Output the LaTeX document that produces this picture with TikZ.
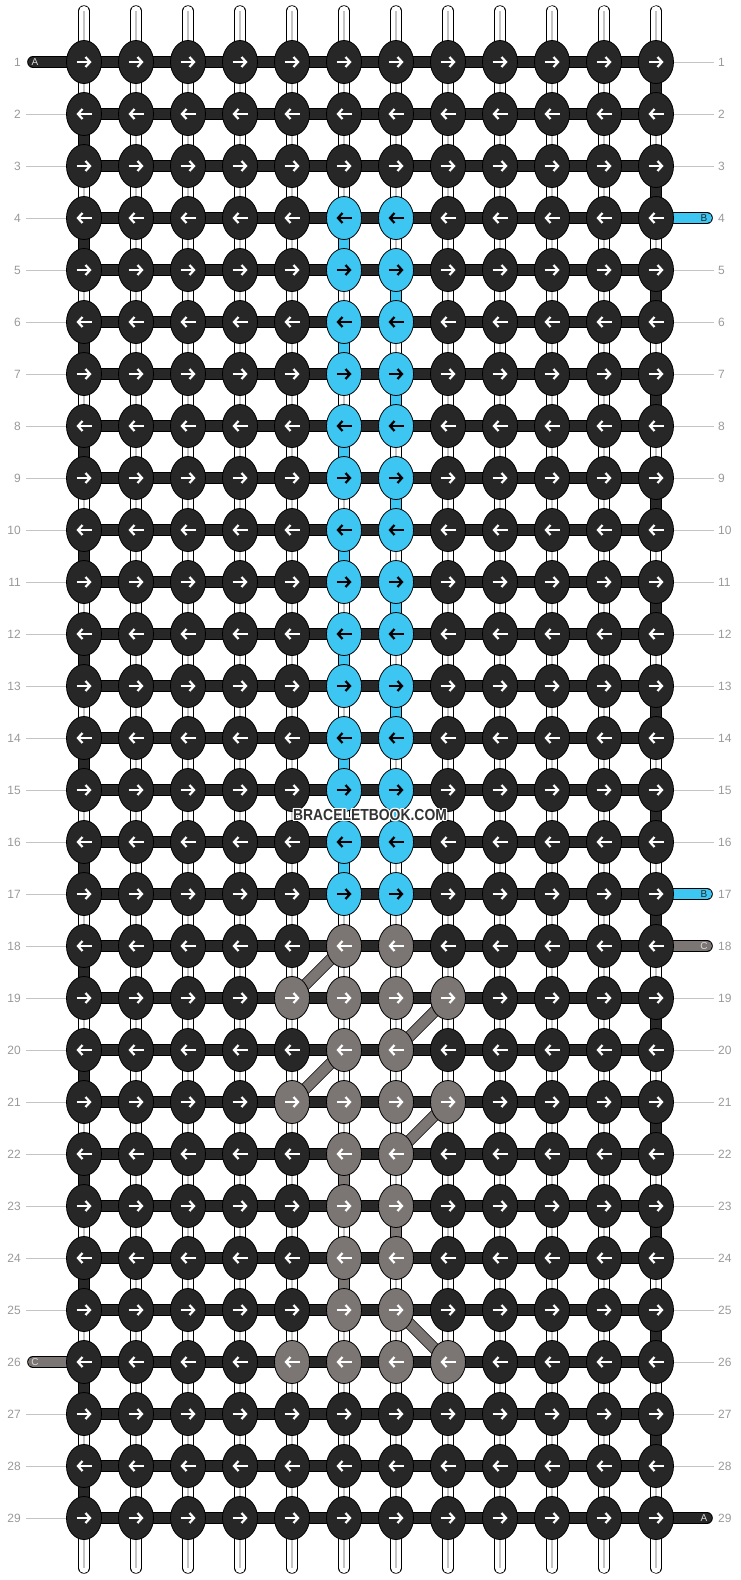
\documentclass[tikz,border=0pt]{standalone}
\usepackage{fontspec}
\setmainfont{Liberation Sans}
\usetikzlibrary{arrows.meta,shapes.geometric}

\definecolor{kdark}{HTML}{272727}
\definecolor{kblue}{HTML}{3EC6F2}
\definecolor{kgray}{HTML}{7B7574}
\definecolor{numgray}{HTML}{999999}
\definecolor{guidegray}{HTML}{C4C4C4}

\tikzset{
  knot/.style={ellipse, draw=black, line width=0.8pt, minimum width=35pt, minimum height=43pt, inner sep=0pt},
  strand/.style={draw=black, double=white, double distance=10pt, line width=0.7pt, line cap=round},
  core/.style={draw=guidegray, line width=1.3pt},
  bar/.style={draw=black, double=kdark, double distance=10pt, line width=0.8pt},
  arr/.style={line width=2.2pt, -{Straight Barb[length=4.5pt,width=10pt]}},
  guide/.style={draw=guidegray, line width=0.8pt},
  rownum/.style={text=numgray, font=\fontsize{12}{14}\selectfont, inner sep=0pt},
  tag/.style={font=\fontsize{10}{11}\selectfont, inner sep=0pt},
  wm/.style={font=\fontsize{16}{16}\selectfont\bfseries, xscale=0.87, inner sep=0pt}
}

\begin{document}
\begin{tikzpicture}[x=1pt,y=-1pt]
\useasboundingbox (0,0) rectangle (740,1580);
\foreach \r in {1,...,29}
  \foreach \c in {1,...,12}
    \coordinate (p-\r-\c) at ({84+52*(\c-1)},{62+52*(\r-1)});

% strands
\foreach \c in {1,...,12}{
  \coordinate (t-\c) at ({84+52*(\c-1)},11);
  \coordinate (b-\c) at ({84+52*(\c-1)},1568);
  \draw[strand] (t-\c) -- (b-\c);
  \draw[core] (t-\c) -- (b-\c);
}

% turns of the threads
\foreach \r [evaluate=\r as \rn using int(\r+1)] in {1,3,...,27}
  \draw[bar] (p-\r-12) -- (p-\rn-12);
\foreach \r [evaluate=\r as \rn using int(\r+1)] in {2,4,...,28}
  \draw[bar] (p-\r-1) -- (p-\rn-1);
\foreach \r [evaluate=\r as \rn using int(\r+1)] in {4,6,...,16}
  \draw[bar, double=kblue] (p-\r-6) -- (p-\rn-6);
\foreach \r [evaluate=\r as \rn using int(\r+1)] in {5,7,...,15}
  \draw[bar, double=kblue] (p-\r-7) -- (p-\rn-7);
\draw[bar, double=kgray] (p-22-6) -- (p-23-6);
\draw[bar, double=kgray] (p-23-7) -- (p-24-7);
\draw[bar, double=kgray] (p-24-6) -- (p-25-6);

% rows
\foreach \r in {1,...,29}
  \draw[bar] (p-\r-1) -- (p-\r-12);

% loose ends
\coordinate (sa1) at (33,62);
\coordinate (sa2) at (707,1518);
\coordinate (sb1) at (707,218);
\coordinate (sb2) at (707,894);
\coordinate (sc1) at (707,946);
\coordinate (sc2) at (33,1362);
\draw[bar, line cap=round] (p-1-1) -- (sa1);
\draw[bar, line cap=round] (p-29-12) -- (sa2);
\draw[bar, line cap=round, double=kblue] (p-4-12) -- (sb1);
\draw[bar, line cap=round, double=kblue] (p-17-12) -- (sb2);
\draw[bar, line cap=round, double=kgray] (p-18-12) -- (sc1);
\draw[bar, line cap=round, double=kgray] (p-26-1) -- (sc2);
\node[tag, text=white!85!black] (la1) at ([xshift=2pt]sa1) {A};
\node[tag, text=white!85!black] (la2) at ([xshift=-3pt]sa2) {A};
\node[tag, text=kdark] (lb1) at ([xshift=-3pt]sb1) {B};
\node[tag, text=kdark] (lb2) at ([xshift=-3pt]sb2) {B};
\node[tag, text=white!85!black] (lc1) at ([xshift=-3pt]sc1) {C};
\node[tag, text=white!85!black] (lc2) at ([xshift=2pt]sc2) {C};

% diagonals
\draw[bar, double=kgray] (p-18-6) -- (p-19-5);
\draw[bar, double=kgray] (p-19-8) -- (p-20-7);
\draw[bar, double=kgray] (p-20-6) -- (p-21-5);
\draw[bar, double=kgray] (p-21-8) -- (p-22-7);
\draw[bar, double=kgray] (p-25-7) -- (p-26-8);

% knots
\foreach \r in {1,...,29}
  \foreach \c in {1,...,12}{
    \pgfmathtruncatemacro\isblue{and(and(\r>=4,\r<=17),or(\c==6,\c==7))}
    \pgfmathtruncatemacro\isgray{or(and(and(\r>=18,\r<=26),or(\c==6,\c==7)),and(or(\r==19,or(\r==21,\r==26)),or(\c==5,\c==8)))}
    \pgfmathtruncatemacro\odd{mod(\r,2)}
    \ifnum\isblue=1 \def\kf{kblue}\def\ka{black}
    \else\ifnum\isgray=1 \def\kf{kgray}\def\ka{white}
    \else \def\kf{kdark}\def\ka{white}\fi\fi
    \node[knot, fill=\kf] (k-\r-\c) at (p-\r-\c) {};
    \ifnum\odd=1
      \draw[arr, \ka] ([xshift=-7.5pt]k-\r-\c.center) -- ([xshift=7.5pt]k-\r-\c.center);
    \else
      \draw[arr, \ka] ([xshift=7.5pt]k-\r-\c.center) -- ([xshift=-7.5pt]k-\r-\c.center);
    \fi
  }

% row numbers
\foreach \r in {1,...,29}{
  \node[rownum, anchor=east] (nl-\r) at (21,{62+52*(\r-1)}) {\r};
  \node[rownum, anchor=west] (nr-\r) at (718,{62+52*(\r-1)}) {\r};
}
\foreach \r in {2,...,25,27,28,29}{
  \coordinate (gl-\r) at (26,{62+52*(\r-1)});
  \draw[guide] (gl-\r) -- (k-\r-1.west);
}
\foreach \r in {1,2,3,5,6,...,16,19,20,...,28}{
  \coordinate (gr-\r) at (714,{62+52*(\r-1)});
  \draw[guide] (k-\r-12.east) -- (gr-\r);
}

% watermark
\coordinate (wm) at (370,815);
\foreach \i/\dx/\dy in {1/1.3/0,2/-1.3/0,3/0/1.3,4/0/-1.3,5/0.9/0.9,6/-0.9/0.9,7/0.9/-0.9,8/-0.9/-0.9}
  \node[wm, text=white] (halo\i) at ([shift={(\dx,\dy)}]wm) {BRACELETBOOK.COM};
\node[wm, text=black!80] (wmtext) at (wm) {BRACELETBOOK.COM};
\end{tikzpicture}
\end{document}
